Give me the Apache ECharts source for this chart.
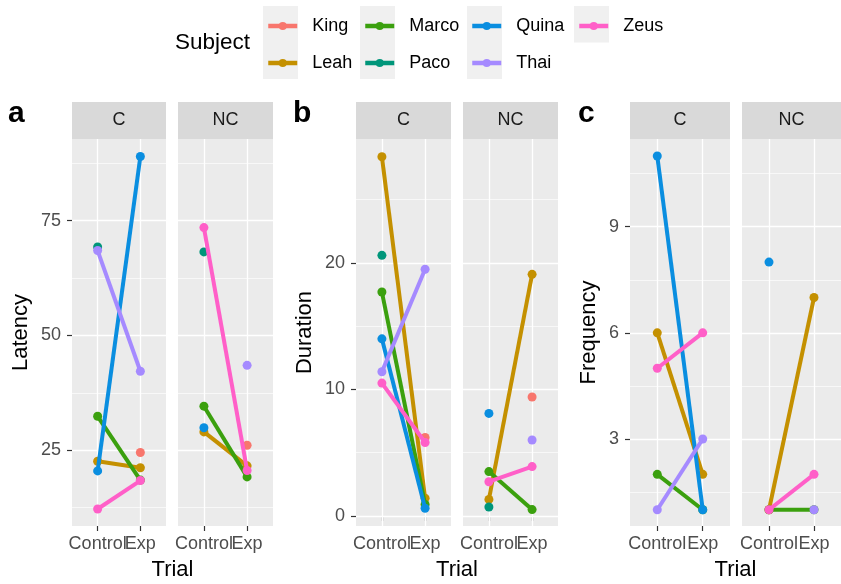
<!DOCTYPE html>
<html><head><meta charset="utf-8">
<script src="https://cdn.jsdelivr.net/npm/echarts@6/dist/echarts.min.js"></script>
<style>html,body{margin:0;padding:0;background:#fff}#c{width:841px;height:584px}</style>
</head><body><div id="c"></div>
<script>
// ---------- data ----------
const subjects = ['King', 'Leah', 'Marco', 'Paco', 'Quina', 'Thai', 'Zeus'];
const trials = ['Control', 'Exp'];
const facets = ['C', 'NC'];

// Latency (panel a)  — order follows subjects
const latencyC_Control  = [null, 22.6, 32.4, 69.3, 20.5, 68.5, 12.2];
const latencyC_Exp      = [24.5, 21.2, 18.5, null, 89.0, 42.2, 18.4];
const latencyNC_Control = [null, 29.0, 34.6, 68.2, 29.9, null, 73.5];
const latencyNC_Exp     = [26.1, 21.6, 19.2, null, null, 43.5, 20.6];

// Duration (panel b)
const durationC_Control  = [null, 28.4, 17.7, 20.6, 14.0, 11.4, 10.5];
const durationC_Exp      = [6.2, 1.4, 0.9, null, 0.6, 19.5, 5.8];
const durationNC_Control = [null, 1.3, 3.5, 0.7, 8.1, null, 2.7];
const durationNC_Exp     = [9.4, 19.1, 0.5, null, null, 6.0, 3.9];

// Frequency (panel c)
const frequencyC_Control  = [null, 6, 2, null, 11, 1, 5];
const frequencyC_Exp      = [null, 2, 1, null, 1, 3, 6];
const frequencyNC_Control = [null, 1, 1, null, 8, null, 1];
const frequencyNC_Exp     = [null, 7, 1, null, null, 1, 2];

// tick labels
const latencyTicks = [25, 50, 75];
const latencyMinor = [12.5, 37.5, 62.5, 87.5];
const durationTicks = [0, 10, 20];
const durationMinor = [5, 15, 25];
const frequencyTicks = [3, 6, 9];
const frequencyMinor = [1.5, 4.5, 7.5, 10.5];

// ---------- styles / layout ----------
const colors = ['#F8766D', '#C49000', '#3BA00E', '#00967A', '#0A8EE0', '#A58AFF', '#FF5FC8'];
const FONT = '"Liberation Sans", Arial, sans-serif';
const TOP = 139, HEIGHT = 387, STRIP_TOP = 102, STRIP_H = 37;

const panels = [
  { letter: 'a', letterX: 8,   yName: 'Latency',   nameGap: 40, min: 8.5,  max: 92.8,
    ticks: latencyTicks, minor: latencyMinor,
    facetData: [[latencyC_Control, latencyC_Exp], [latencyNC_Control, latencyNC_Exp]],
    grids: [[72, 94], [178, 95]] },
  { letter: 'b', letterX: 293, yName: 'Duration',  nameGap: 40, min: -0.8, max: 29.8,
    ticks: durationTicks, minor: durationMinor,
    facetData: [[durationC_Control, durationC_Exp], [durationNC_Control, durationNC_Exp]],
    grids: [[356, 95], [463, 95]] },
  { letter: 'c', letterX: 578, yName: 'Frequency', nameGap: 30, min: 0.54, max: 11.48,
    ticks: frequencyTicks, minor: frequencyMinor,
    facetData: [[frequencyC_Control, frequencyC_Exp], [frequencyNC_Control, frequencyNC_Exp]],
    grids: [[630, 100], [742, 99]] }
];

const grid = [], xAxis = [], yAxis = [], series = [], graphic = [];

panels.forEach((p, pi) => {
  graphic.push({ type: 'text', left: p.letterX, top: 99, z: 10,
    style: { text: p.letter, font: 'bold 30px ' + FONT, fill: '#000' } });
  const l = p.grids[0][0], r = p.grids[1][0] + p.grids[1][1];
  graphic.push({ type: 'text', x: (l + r) / 2, y: 570, z: 10,
    style: { text: 'Trial', font: '22px ' + FONT, fill: '#000', align: 'center', verticalAlign: 'middle' } });

  facets.forEach((f, fi) => {
    const g = grid.length;
    const [left, width] = p.grids[fi];
    grid.push({ left: left, top: TOP, width: width, height: HEIGHT, show: true,
      backgroundColor: '#ebebeb', borderWidth: 0 });
    graphic.push({ type: 'rect', shape: { x: left, y: STRIP_TOP, width: width, height: STRIP_H },
      style: { fill: '#d9d9d9' }, z: 1 });
    graphic.push({ type: 'text', x: left + width / 2, y: STRIP_TOP + STRIP_H / 2, z: 2,
      style: { text: f, font: '18px ' + FONT, fill: '#1a1a1a', align: 'center', verticalAlign: 'middle' } });

    // one x axis per trial label so the overlapping labels are both kept (as in ggplot)
    const xMain = xAxis.length;
    trials.forEach((t, ti) => {
      xAxis.push({ type: 'value', gridIndex: g, min: 0.4, max: 2.6, position: 'bottom', offset: 0,
        axisLine: { show: false }, splitLine: { show: false },
        axisTick: { show: ti === 0, customValues: [1, 2], length: 5, lineStyle: { color: '#333', width: 1.2 } },
        axisLabel: { customValues: [ti + 1], formatter: v => trials[Math.round(v) - 1],
          showMinLabel: true, showMaxLabel: true, hideOverlap: false,
          color: '#4d4d4d', fontSize: 18, fontFamily: FONT, margin: 9 } });
    });

    const showY = fi === 0;
    yAxis.push({ type: 'value', gridIndex: g, min: p.min, max: p.max,
      axisLine: { show: false }, splitLine: { show: false },
      axisTick: { show: showY, customValues: p.ticks, length: 5, lineStyle: { color: '#333', width: 1.2 } },
      axisLabel: { show: showY, customValues: p.ticks, showMinLabel: true, showMaxLabel: true,
        color: '#4d4d4d', fontSize: 18, fontFamily: FONT, margin: 11 },
      name: showY ? p.yName : '', nameLocation: 'middle', nameGap: p.nameGap,
      nameTextStyle: { fontSize: 22, color: '#000', fontFamily: FONT } });

    const ml = [];
    [1, 2].forEach(v => ml.push({ xAxis: v, lineStyle: { color: '#fff', width: 1.3, type: 'solid' } }));
    p.ticks.forEach(v => ml.push({ yAxis: v, lineStyle: { color: '#fff', width: 1.3, type: 'solid' } }));
    p.minor.forEach(v => ml.push({ yAxis: v, lineStyle: { color: '#fff', width: 0.65, type: 'solid' } }));
    series.push({ type: 'line', xAxisIndex: xMain, yAxisIndex: g, data: [], silent: true, z: 1,
      markLine: { silent: true, symbol: 'none', z: 1, animation: false, label: { show: false },
        emphasis: { disabled: true }, data: ml } });

    const [ctrl, exp] = p.facetData[fi];
    subjects.forEach((s, si) => {
      const pts = [];
      if (ctrl[si] != null) pts.push([1, ctrl[si]]);
      if (exp[si] != null) pts.push([2, exp[si]]);
      if (!pts.length) return;
      series.push({ type: 'line', name: s, xAxisIndex: xMain, yAxisIndex: g, data: pts,
        symbol: 'circle', symbolSize: 9, showSymbol: true, z: 3 + si * 0.01,
        lineStyle: { width: 4, color: colors[si] }, itemStyle: { color: colors[si] },
        emphasis: { disabled: true }, animation: false });
    });
  });
});

// legend
graphic.push({ type: 'text', x: 175, y: 43, z: 10,
  style: { text: 'Subject', font: '22.5px ' + FONT, fill: '#000', verticalAlign: 'middle' } });
const legendCols = [[0, 1], [2, 3], [4, 5], [6]];
const colBoxX = [263, 360, 467, 574];
const legend = [];
legendCols.forEach((idx, ci) => {
  graphic.push({ type: 'rect', shape: { x: colBoxX[ci], y: 6, width: 35, height: idx.length * 36.5 },
    style: { fill: '#f0f0f0' }, z: 0 });
  legend.push({ data: idx.map(i => subjects[i]), orient: 'vertical', left: colBoxX[ci] + 3, top: 17,
    itemWidth: 29, itemHeight: 10, itemGap: 19, padding: 0, selectedMode: false,
    lineStyle: { width: 4.5 },
    textStyle: { fontSize: 18, color: '#000', fontFamily: FONT, padding: [0, 0, 0, 10] } });
});

const chart = echarts.init(document.getElementById('c'), null, { renderer: 'canvas' });
chart.setOption({ animation: false, backgroundColor: '#fff', grid, xAxis, yAxis, series, legend, graphic });
</script>
</body></html>
